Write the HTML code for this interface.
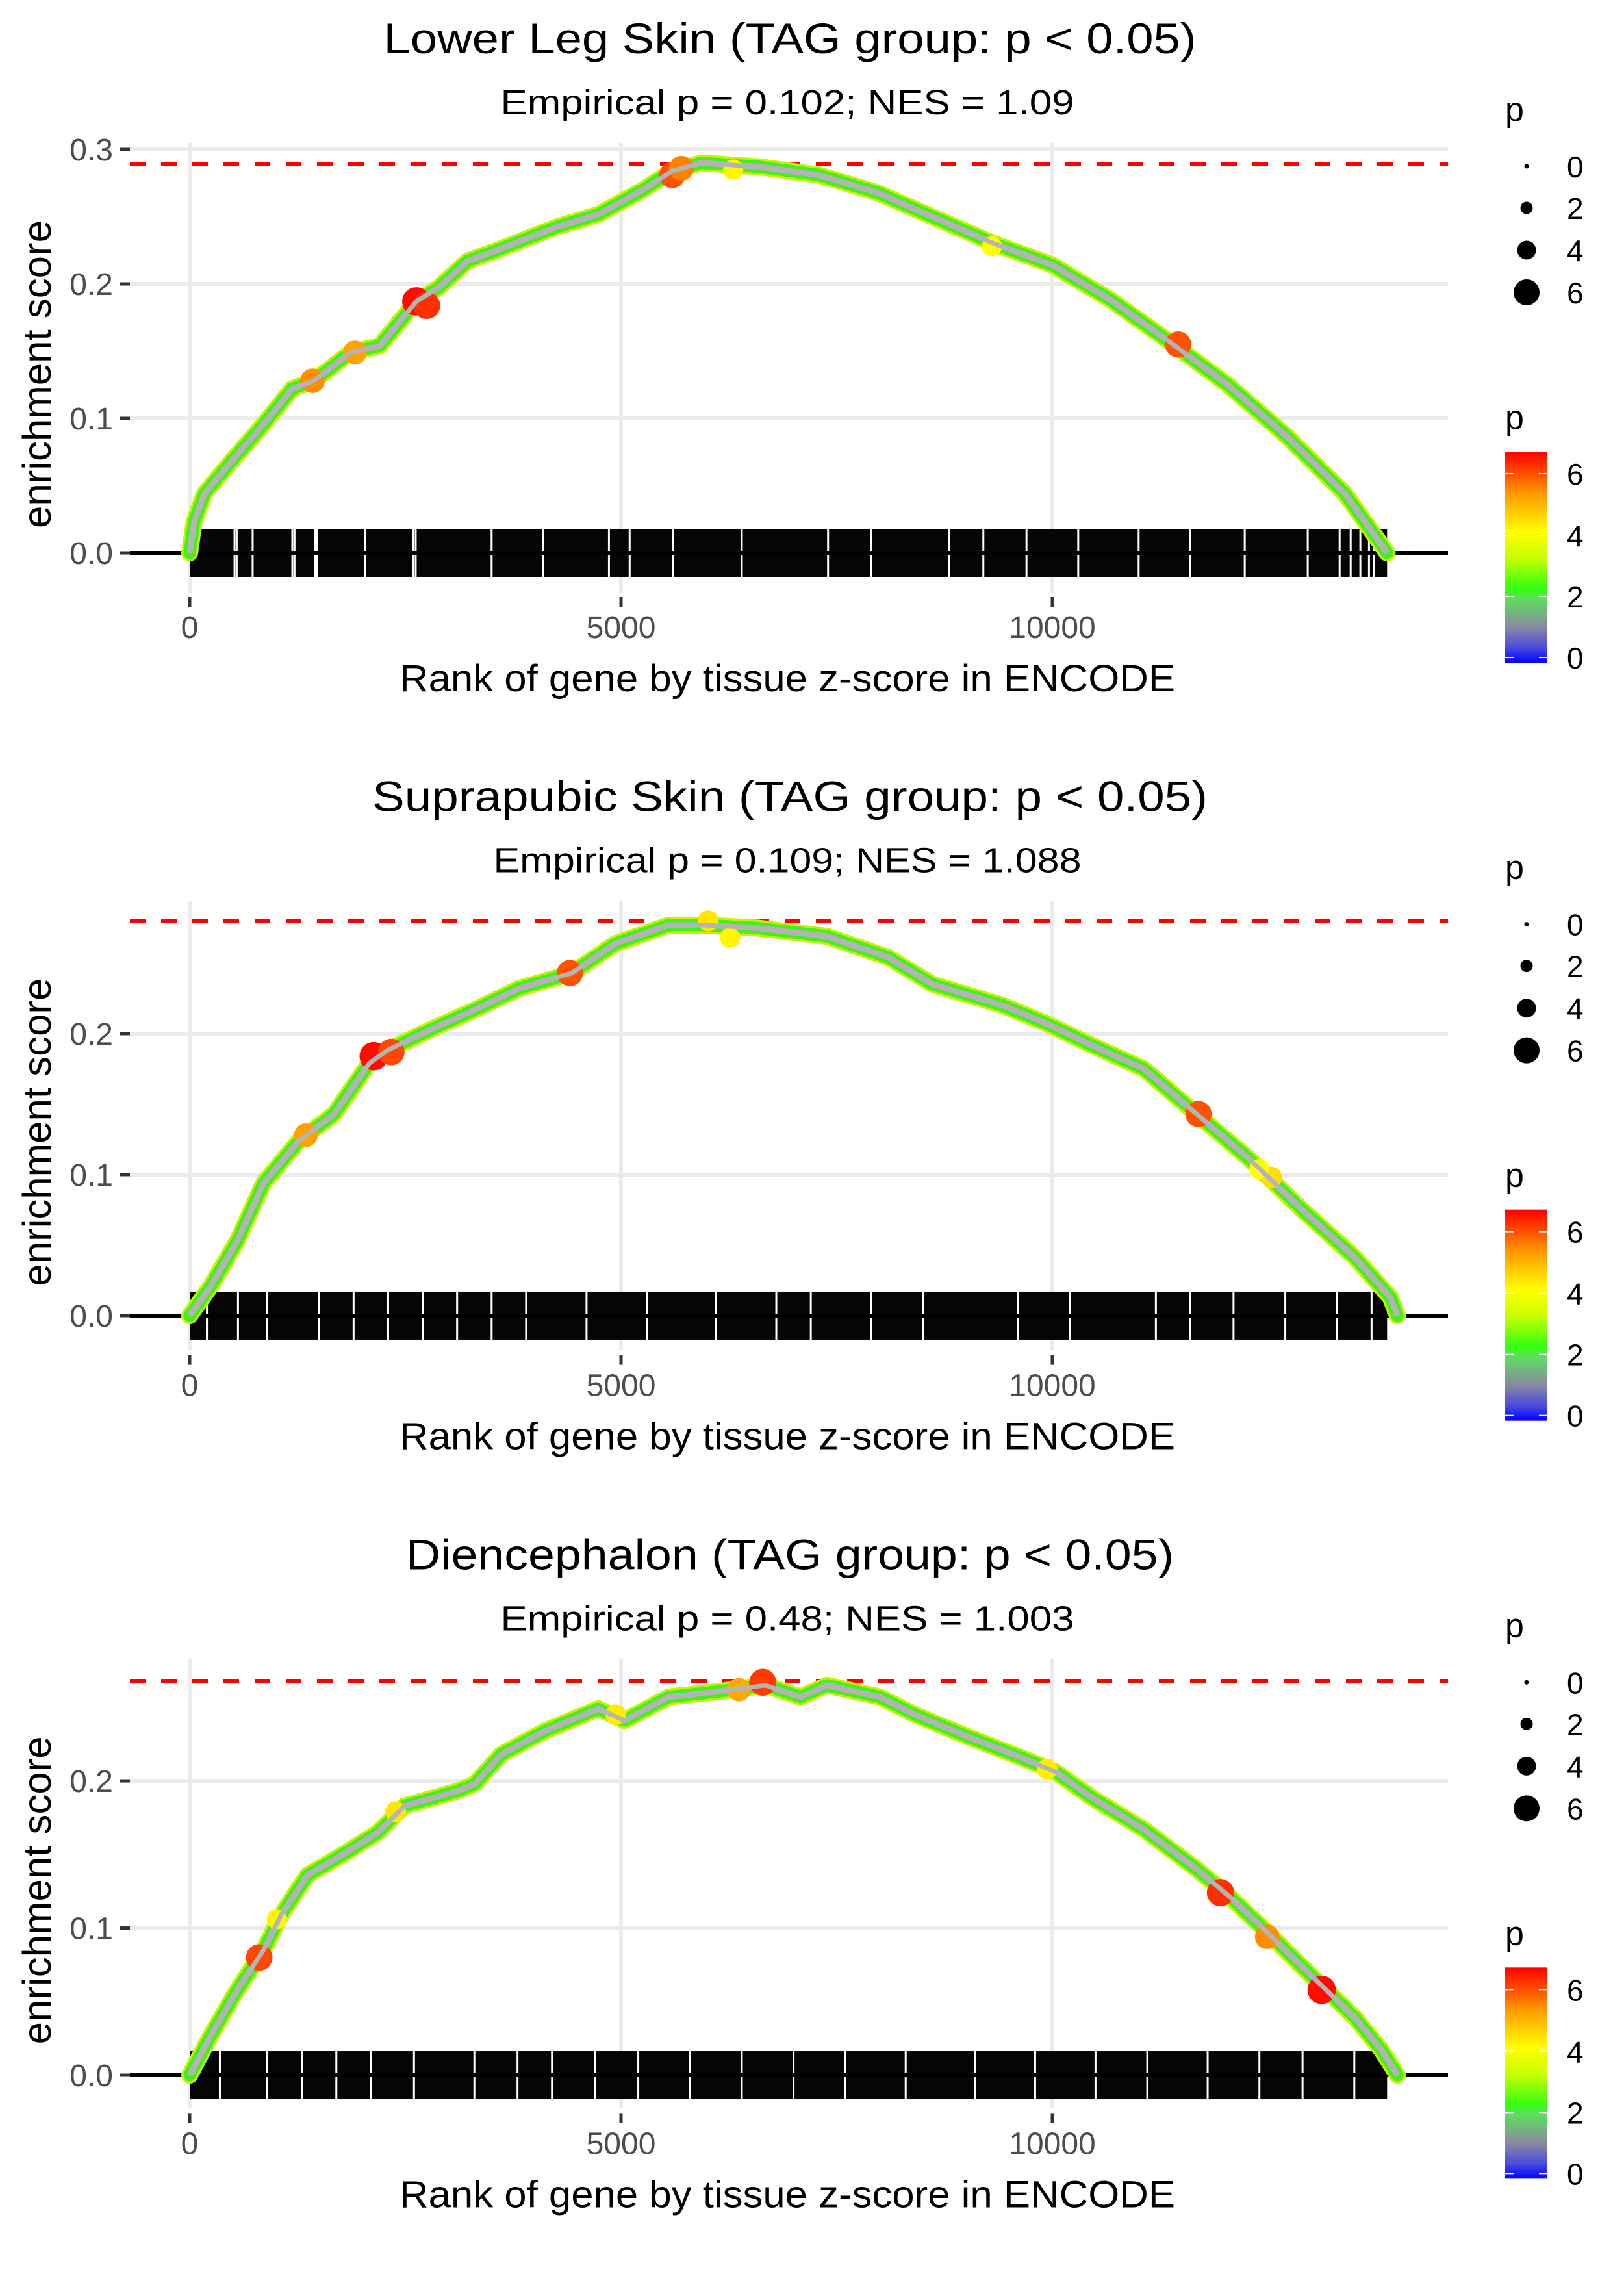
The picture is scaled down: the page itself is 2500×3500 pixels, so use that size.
<!DOCTYPE html>
<html><head><meta charset="utf-8">
<style>
html,body{margin:0;padding:0;background:#fff;}
svg{display:block;font-family:"Liberation Sans",Arial,sans-serif;}
</style></head>
<body>
<svg id="chart" xmlns="http://www.w3.org/2000/svg" width="2500" height="3500" viewBox="0 0 2500 3500">
<defs>
<linearGradient id="pgrad" x1="0" y1="1" x2="0" y2="0">
<stop offset="0" stop-color="#0000ff"/>
<stop offset="0.07" stop-color="#4a4ae0"/>
<stop offset="0.17" stop-color="#8a8aa0"/>
<stop offset="0.3" stop-color="#5fdc5f"/>
<stop offset="0.35" stop-color="#33ff11"/>
<stop offset="0.5" stop-color="#ccff00"/>
<stop offset="0.62" stop-color="#ffff00"/>
<stop offset="0.8" stop-color="#ff9900"/>
<stop offset="1" stop-color="#ff0000"/>
</linearGradient>
</defs>
<g id="panels"></g>
</svg>
<script>
// ---- data (rank, enrichment score) ----
const titles = ["Lower Leg Skin (TAG group: p < 0.05)","Suprapubic Skin (TAG group: p < 0.05)","Diencephalon (TAG group: p < 0.05)"];
const subtitles = ["Empirical p = 0.102; NES = 1.09","Empirical p = 0.109; NES = 1.088","Empirical p = 0.48; NES = 1.003"];
const maxES = [0.289, 0.2797, 0.268];
const yTicks1 = [0, 0.1, 0.2, 0.3];
const yTicks2 = [0, 0.1, 0.2];
const yTicks3 = [0, 0.1, 0.2];
const yTickLabels1 = ["0.0","0.1","0.2","0.3"];
const yTickLabels2 = ["0.0","0.1","0.2"];
const yTickLabels3 = ["0.0","0.1","0.2"];
const xTicks = [0, 5000, 10000];
const xTickLabels = ["0","5000","10000"];

const p1Ranks = [0,51,170,508,848,1187,1441,1865,2204,2627,2882,3221,3560,4238,4746,5255,5594,5933,6611,7289,7967,8645,9323,10001,10679,11357,12035,12713,13391,13815,13880];
const p1ES = [0,0.023,0.044,0.07,0.095,0.122,0.128,0.149,0.154,0.187,0.197,0.217,0.225,0.242,0.252,0.27,0.284,0.29,0.287,0.281,0.268,0.249,0.23,0.214,0.188,0.157,0.125,0.087,0.044,0.006,0];
const p2Ranks = [0,245,551,857,1265,1673,2082,2286,2796,3306,3816,4429,4939,5551,5959,6571,7388,8102,8612,9429,9939,10449,11061,11673,12286,12898,13510,13918,14000];
const p2ES = [0,0.021,0.053,0.094,0.124,0.143,0.179,0.188,0.203,0.217,0.232,0.243,0.264,0.277,0.277,0.275,0.269,0.254,0.235,0.22,0.207,0.192,0.175,0.143,0.111,0.075,0.041,0.013,0];
const p3Ranks = [0,245,551,857,1061,1367,1776,2184,2490,3102,3306,3612,4122,4735,5041,5551,6163,6673,7082,7388,8000,8408,9020,9633,10041,10449,11061,11673,12082,12490,13102,13510,13816,14000];
const p3ES = [0,0.027,0.058,0.085,0.109,0.136,0.15,0.165,0.183,0.193,0.198,0.218,0.234,0.249,0.241,0.257,0.261,0.265,0.257,0.265,0.257,0.245,0.23,0.216,0.206,0.189,0.167,0.14,0.12,0.097,0.062,0.039,0.017,0];

// highlighted (large p) points
const p1BigRanks = [1424,1915,2627,2746,5594,5700,11458,6300,9300];
const p1BigES = [0.128,0.149,0.187,0.184,0.281,0.286,0.155,0.285,0.228];
const p1BigP = [5.5,5.3,6.6,6.3,6.0,5.6,6.0,4.3,4.2];
const p2BigRanks = [1347,2133,2337,4408,11694,6010,6265,12541,12400];
const p2BigES = [0.128,0.184,0.187,0.243,0.143,0.280,0.268,0.098,0.104];
const p2BigP = [5.3,6.6,6.1,6.0,6.0,4.5,4.3,4.6,4.2];
const p3BigRanks = [806,11949,12490,13122,6643,6367,4939,1010,2388,9939];
const p3BigES = [0.080,0.124,0.094,0.058,0.267,0.262,0.245,0.106,0.179,0.208];
const p3BigP = [6.1,6.3,5.5,6.6,6.2,5.2,4.4,4.3,4.5,4.4];

// rug: covered rank range and visible white gaps
const rugStart = [0, 0, 0];
const rugEnd = [13880, 13880, 13880];
const p1RugGaps = [520,545,730,1190,1215,1450,1475,2030,2590,2620,3500,4100,4860,5100,5600,6400,7400,7900,8800,9200,9700,10300,11000,11600,12230,12960,13330,13458,13570,13670,13730];
const p2RugGaps = [200,560,900,1500,1900,2300,2700,3100,3500,3900,4600,5300,6100,6800,7200,7900,8500,9600,10200,11200,11600,12100,12700,13300,13700];
const p3RugGaps = [350,900,1300,1700,2100,2600,3300,3800,4200,4700,5200,5800,6400,7000,7600,8300,9100,9800,10500,11100,11800,12400,12900,13500];

// ---- layout ----
const PANEL_H = 3500/3;
const X0 = 292, XPER = 0.1328;   // px per rank unit
const PLOT_L = 200, PLOT_R = 2229, PLOT_T = 220, PLOT_B = 912;
const yZero = [851, 858.3, 860.7];
const yPer = [2070, 2170, 2265];  // px per 1.0 ES

const NS = "http://www.w3.org/2000/svg";
const root = document.getElementById('panels');
function mk(tag, attrs, parent){
  const e = document.createElementNS(NS, tag);
  for (const k in attrs) e.setAttribute(k, attrs[k]);
  (parent||root).appendChild(e);
  return e;
}
function pColor(p){
  const stops=[[0,[0,0,255]],[0.5,[74,74,224]],[1.1,[138,138,160]],[2,[95,220,95]],[2.3,[51,255,17]],[3.3,[204,255,0]],[4.2,[255,255,0]],[5.4,[255,153,0]],[6.7,[255,0,0]]];
  if(p<=0) return 'rgb(0,0,255)';
  for(let i=1;i<stops.length;i++){
    if(p<=stops[i][0]){
      const a=stops[i-1],b=stops[i],t=(p-a[0])/(b[0]-a[0]);
      const c=a[1].map((v,j)=>Math.round(v+(b[1][j]-v)*t));
      return 'rgb('+c.join(',')+')';
    }
  }
  return 'rgb(255,0,0)';
}
function pRadius(p){ return 4 + p*2.7; }

const allRanks=[p1Ranks,p2Ranks,p3Ranks], allES=[p1ES,p2ES,p3ES];
const bigR=[p1BigRanks,p2BigRanks,p3BigRanks], bigE=[p1BigES,p2BigES,p3BigES], bigP=[p1BigP,p2BigP,p3BigP];
const rugGaps=[p1RugGaps,p2RugGaps,p3RugGaps];
const yT=[yTicks1,yTicks2,yTicks3], yTL=[yTickLabels1,yTickLabels2,yTickLabels3];
const titleLens=[1251,1286,1182], subLens=[883,905,883];

for(let k=0;k<3;k++){
  const oy = PANEL_H*k;
  const xs = r => X0 + r*XPER;
  const ys = v => oy + yZero[k] - v*yPer[k];
  const g = mk('g',{});
  
  

  const t = mk('text',{x:1216,y:oy+82,'font-size':66,'text-anchor':'middle',fill:'#000',textLength:titleLens[k],lengthAdjust:'spacingAndGlyphs'},g);
  t.textContent=titles[k];
  
  
  const st = mk('text',{x:1212,y:oy+176,'font-size':54,'text-anchor':'middle',fill:'#000',textLength:subLens[k],lengthAdjust:'spacingAndGlyphs'},g);
  st.textContent=subtitles[k];
  
  

  // gridlines
  yT[k].forEach((v,i)=>{
    const l=mk('line',{x1:PLOT_L,x2:PLOT_R,y1:ys(v),y2:ys(v),stroke:'#ebebeb','stroke-width':6},g);
    
    
    const tk=mk('line',{x1:184,x2:200,y1:ys(v),y2:ys(v),stroke:'#333','stroke-width':5},g);
    
    
    const tl=mk('text',{x:174,y:ys(v)+17,'font-size':48,'text-anchor':'end',fill:'#4d4d4d'},g);
    tl.textContent=yTL[k][i];
    
    
  });
  xTicks.forEach((v,i)=>{
    const l=mk('line',{x1:xs(v),x2:xs(v),y1:oy+PLOT_T,y2:oy+PLOT_B,stroke:'#ebebeb','stroke-width':6},g);
    
    
    const tk=mk('line',{x1:xs(v),x2:xs(v),y1:oy+919,y2:oy+934,stroke:'#333','stroke-width':5},g);
    
    
    const tl=mk('text',{x:xs(v),y:oy+982,'font-size':48,'text-anchor':'middle',fill:'#4d4d4d'},g);
    tl.textContent=xTickLabels[i];
    
    
  });

  // max ES dashed line
  const ml=mk('line',{x1:PLOT_L,x2:PLOT_R,y1:ys(maxES[k]),y2:ys(maxES[k]),stroke:'#ff0000','stroke-width':6,'stroke-dasharray':'24 24'},g);
  
  

  // rug
  const rug=mk('rect',{x:xs(rugStart[k]),y:oy+yZero[k]-37,width:xs(rugEnd[k])-xs(rugStart[k]),height:74,fill:'#050505'},g);
  
  
  rugGaps[k].forEach(r=>{
    const gl=mk('line',{x1:xs(r),x2:xs(r),y1:oy+yZero[k]-37,y2:oy+yZero[k]+37,stroke:'#fff','stroke-width':3},g);
    
    
  });
  // zero line
  const zl=mk('line',{x1:PLOT_L,x2:PLOT_R,y1:ys(0),y2:ys(0),stroke:'#000','stroke-width':6},g);
  
  

  // ES curve
  const pts = allRanks[k].map((r,i)=>xs(r).toFixed(1)+','+ys(allES[k][i]).toFixed(1)).join(' ');
  const c1=mk('polyline',{points:pts,fill:'none',stroke:'#c8f000','stroke-width':26,'stroke-linejoin':'round','stroke-linecap':'round'},g);
  
  
  const c2=mk('polyline',{points:pts,fill:'none',stroke:'#44ee22','stroke-width':19,'stroke-linejoin':'round','stroke-linecap':'round'},g);
  
  
  const c3=mk('polyline',{points:pts,fill:'none',stroke:'#b4b4b4','stroke-width':9,'stroke-linejoin':'round'},g);
  
  

  // highlighted points
  bigR[k].forEach((r,i)=>{
    const cc=mk('circle',{cx:xs(r),cy:ys(bigE[k][i]),r:pRadius(bigP[k][i]),fill:pColor(bigP[k][i])},g);
    
    
  });
  // redraw gray line over points
  const c4=mk('polyline',{points:pts,fill:'none',stroke:'#b4b4b4','stroke-width':7,'stroke-linejoin':'round'},g);
  
  

  // axis titles
  const xt=mk('text',{x:1212,y:oy+1064,'font-size':58,'text-anchor':'middle',fill:'#000',textLength:1194,lengthAdjust:'spacingAndGlyphs'},g);
  xt.textContent='Rank of gene by tissue z-score in ENCODE';
  
  
  const yt=mk('text',{x:0,y:0,'font-size':61,'text-anchor':'middle',fill:'#000',textLength:474,lengthAdjust:'spacingAndGlyphs',transform:'translate(78,'+(oy+576)+') rotate(-90)'},g);
  yt.textContent='enrichment score';
  
  

  // size legend
  const lg=mk('g',{},g);
  
  
  const lt=mk('text',{x:2317,y:oy+186,'font-size':52,fill:'#000'},lg);
  lt.textContent='p';
  
  
  [[0,3.5,256],[2,9.5,320],[4,14.5,385],[6,20,450]].forEach(e=>{
    const d=mk('circle',{cx:2350,cy:oy+e[2],r:e[1],fill:'#000'},lg);
    
    
    const tx=mk('text',{x:2412,y:oy+e[2]+17,'font-size':46,fill:'#000'},lg);
    tx.textContent=String(e[0]);
    
    
  });
  // colour legend
  const cg=mk('g',{},g);
  
  
  const ct=mk('text',{x:2317,y:oy+660,'font-size':52,fill:'#000'},cg);
  ct.textContent='p';
  
  
  const bar=mk('rect',{x:2317,y:oy+695,width:65,height:325,fill:'url(#pgrad)'},cg);
  
  
  [[6,729],[4,824],[2,918],[0,1012]].forEach(e=>{
    mk('line',{x1:2317,x2:2330,y1:oy+e[1],y2:oy+e[1],stroke:'#fff','stroke-width':2},cg);
    mk('line',{x1:2369,x2:2382,y1:oy+e[1],y2:oy+e[1],stroke:'#fff','stroke-width':2},cg);
    const tx=mk('text',{x:2412,y:oy+e[1]+17,'font-size':46,fill:'#000'},cg);
    tx.textContent=String(e[0]);
    
    
  });
}
</script>
</body></html>
